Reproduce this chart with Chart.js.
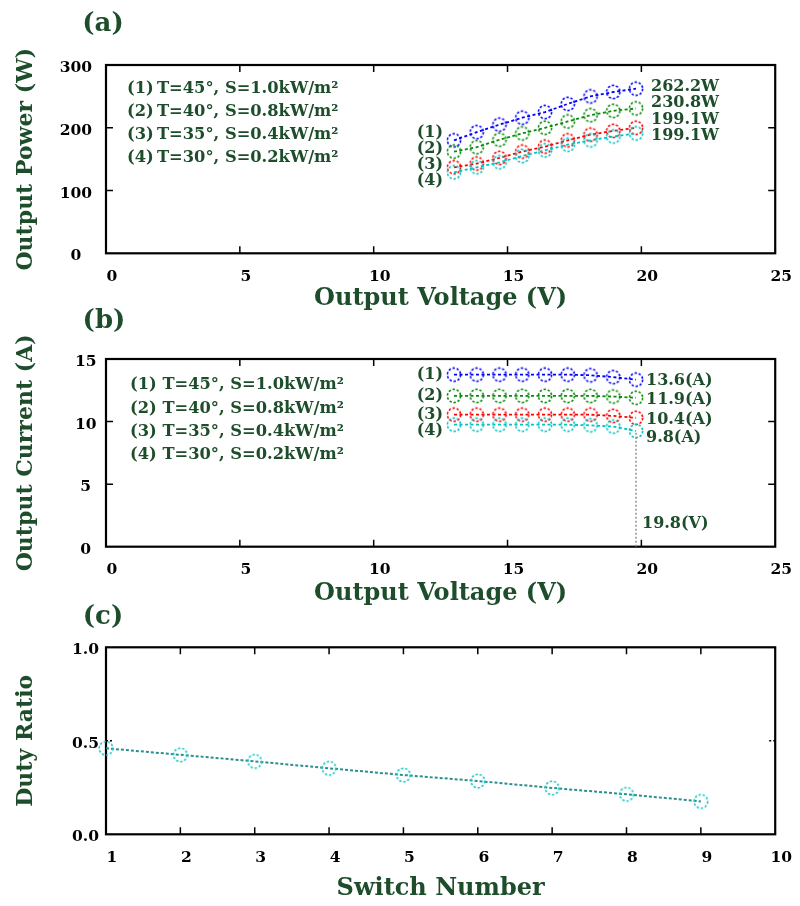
<!DOCTYPE html>
<html>
<head>
<meta charset="utf-8">
<script src="https://cdn.jsdelivr.net/npm/chart.js@4.4.0/dist/chart.umd.min.js"></script>
<style>
  body { margin: 0; background: #fff; width: 800px; height: 906px; position: relative; overflow: hidden; }
  canvas { position: absolute; left: 0; }
</style>
</head>
<body>
<canvas id="chartA" width="800" height="315" style="top:0px"></canvas>
<canvas id="chartB" width="800" height="310" style="top:300px"></canvas>
<canvas id="chartC" width="800" height="306" style="top:600px"></canvas>
<script>
// values
const voltage = [13.0, 13.85, 14.7, 15.55, 16.4, 17.25, 18.1, 18.95, 19.8];
const powerCase1 = [180, 193, 205, 216, 225, 238, 250, 257, 262.2];
const powerCase2 = [162, 169, 181, 191, 200, 210, 220, 227, 230.8];
const powerCase3 = [137, 143, 152, 162, 170, 180, 189, 195, 200];
const powerCase4 = [129, 137, 145, 155, 164, 173, 180, 186, 191];
const currentCase1 = [13.75, 13.75, 13.75, 13.75, 13.75, 13.75, 13.7, 13.55, 13.35];
const currentCase2 = [12.05, 12.05, 12.05, 12.05, 12.05, 12.05, 12.05, 12.0, 11.9];
const currentCase3 = [10.55, 10.55, 10.55, 10.55, 10.55, 10.55, 10.55, 10.45, 10.3];
const currentCase4 = [9.75, 9.75, 9.75, 9.75, 9.75, 9.75, 9.7, 9.6, 9.25];
const switchNumber = [1, 2, 3, 4, 5, 6, 7, 8, 9];
const dutyRatio = [0.46, 0.425, 0.39, 0.353, 0.317, 0.285, 0.248, 0.214, 0.176];

const caseLabels = ['(1)', '(2)', '(3)', '(4)'];
const caseConditions = ['T=45°, S=1.0kW/m²', 'T=40°, S=0.8kW/m²', 'T=35°, S=0.4kW/m²', 'T=30°, S=0.2kW/m²'];
const powerEndLabels = ['262.2W', '230.8W', '199.1W', '199.1W'];
const currentEndLabels = ['13.6(A)', '11.9(A)', '10.4(A)', '9.8(A)'];
const markVoltage = '19.8(V)';

const GREEN = '#1d4d2b';
const SERIF = "'DejaVu Serif', 'Liberation Serif', serif";
const caseColors = ['#0000ff', '#0a8a0a', '#ff0000', '#00c4c4'];

function ring(color, r) {
  const c = document.createElement('canvas');
  const s = Math.ceil(2 * r + 4);
  c.width = c.height = s;
  const g = c.getContext('2d');
  g.strokeStyle = color;
  g.lineWidth = 1.6;
  g.setLineDash([2.4, 1.8]);
  g.beginPath();
  g.arc(s / 2, s / 2, r, 0, Math.PI * 2);
  g.stroke();
  return c;
}

function pairs(xs, ys) {
  return xs.map((v, i) => ({x: v, y: ys[i]}));
}

function series(ys, i) {
  return {
    data: pairs(voltage, ys),
    borderColor: caseColors[i],
    borderWidth: 1.8,
    borderDash: [3, 2.5],
    pointStyle: ring(caseColors[i], 6.6),
    pointRadius: 7,
    clip: false
  };
}

function text(ctx, t, x, y, size, color, align) {
  ctx.font = 'bold ' + size + 'px ' + SERIF;
  ctx.fillStyle = color;
  ctx.textAlign = align || 'left';
  ctx.textBaseline = 'middle';
  ctx.fillText(t, x, y);
}

// border box with inward ticks on all four sides
const frame = {
  id: 'frame',
  beforeDatasetsDraw(chart, args, opts) {
    const {ctx, chartArea: a} = chart;
    const x = chart.scales.x, y = chart.scales.y;
    ctx.save();
    ctx.strokeStyle = '#000';
    ctx.lineWidth = 1.5;
    x.ticks.forEach(t => {
      const p = x.getPixelForValue(t.value);
      if (p < a.left + 2 || p > a.right - 2) return;
      ctx.beginPath();
      ctx.moveTo(p, a.bottom); ctx.lineTo(p, a.bottom - 7);
      ctx.moveTo(p, a.top); ctx.lineTo(p, a.top + 7);
      ctx.stroke();
    });
    if (opts.yDash) ctx.setLineDash(opts.yDash);
    y.ticks.forEach(t => {
      const p = y.getPixelForValue(t.value);
      if (p < a.top + 2 || p > a.bottom - 2) return;
      ctx.beginPath();
      ctx.moveTo(a.left, p); ctx.lineTo(a.left + 7, p);
      ctx.moveTo(a.right, p); ctx.lineTo(a.right - 7, p);
      ctx.stroke();
    });
    ctx.setLineDash([]);
    ctx.lineWidth = 2.2;
    ctx.strokeRect(a.left, a.top, a.right - a.left, a.bottom - a.top);
    ctx.restore();
  }
};
Chart.register(frame);

function axes(o) {
  const tickFont = {family: SERIF, size: 15.5, weight: 'bold'};
  return {
    x: {
      type: 'linear', min: o.xmin, max: o.xmax,
      afterFit: s => { s.height = o.h - o.bottom; },
      grid: {display: false, drawTicks: false},
      border: {display: false},
      ticks: {stepSize: o.xstep, padding: 14, labelOffset: 6, color: '#000', font: tickFont, autoSkip: false, maxRotation: 0},
      title: {display: true, text: o.xtitle, color: GREEN, font: {family: SERIF, size: 24, weight: 'bold'}, padding: {top: 0, bottom: o.xtpad}}
    },
    y: {
      min: o.ymin, max: o.ymax,
      afterFit: s => { s.width = 106; },
      grid: {display: false, drawTicks: false},
      border: {display: false},
      ticks: {stepSize: o.ystep, padding: o.ypad, crossAlign: 'center', labelOffset: 3, color: '#000', font: tickFont, callback: o.yfmt},
      title: {display: true, text: o.ytitle, color: GREEN, font: {family: SERIF, size: 22, weight: 'bold'}, padding: {top: 13, bottom: 0}}
    }
  };
}

function base(o, datasets, notes, frameOpts) {
  return {
    type: 'line',
    data: {datasets: datasets},
    options: {
      responsive: false,
      animation: false,
      layout: {padding: {left: 0, right: 20, top: o.top, bottom: 0}},
      scales: axes(o),
      plugins: {legend: {display: false}, tooltip: {enabled: false}, frame: frameOpts || {}}
    },
    plugins: [notes]
  };
}

// (a) output power
const notesA = {
  id: 'notesA',
  afterDraw(chart) {
    const ctx = chart.ctx;
    text(ctx, '(a)', 103, 24, 26, GREEN, 'center');
    caseConditions.forEach((t, i) => text(ctx, caseLabels[i] + '\u2009' + t, 127, 89 + 23 * i, 16.3, GREEN));
    const ly = [132.5, 149, 165, 180.5];
    caseLabels.forEach((t, i) => text(ctx, t, 443, ly[i], 16, GREEN, 'right'));
    const xe = chart.scales.x.getPixelForValue(voltage[voltage.length - 1]) + 15;
    const ey = [86.5, 102.5, 120, 135.5];
    powerEndLabels.forEach((t, i) => text(ctx, t, xe, ey[i], 16, GREEN));
  }
};
new Chart(document.getElementById('chartA'), base(
  {xmin: 0, xmax: 25, xstep: 5, ymin: 0, ymax: 300, ystep: 100, ypad: 14, h: 315, top: 65, bottom: 253.3, xtpad: 2,
   xtitle: 'Output Voltage (V)', ytitle: 'Output Power (W)'},
  [series(powerCase4, 3), series(powerCase3, 2), series(powerCase2, 1), series(powerCase1, 0)],
  notesA));

// (b) output current
const notesB = {
  id: 'notesB',
  afterDraw(chart) {
    const ctx = chart.ctx;
    text(ctx, '(b)', 104, 21.5, 26, GREEN, 'center');
    caseConditions.forEach((t, i) => text(ctx, caseLabels[i] + ' ' + t, 130, 85 + 23.3 * i, 16.3, GREEN));
    const ly = [75, 96, 114.5, 130.5];
    caseLabels.forEach((t, i) => text(ctx, t, 443, ly[i], 16, GREEN, 'right'));
    const xs = chart.scales.x.getPixelForValue(voltage[voltage.length - 1]);
    const ey = [80.5, 100, 119.5, 137.5];
    currentEndLabels.forEach((t, i) => text(ctx, t, xs + 10, ey[i], 16, GREEN));
    text(ctx, markVoltage, xs + 6, 224, 16, GREEN);
  }
};
const dropLine = {
  data: [{x: voltage[voltage.length - 1], y: 0}, {x: voltage[voltage.length - 1], y: currentCase4[currentCase4.length - 1]}],
  borderColor: '#8a8a8a', borderWidth: 1.4, borderDash: [2, 2], pointRadius: 0
};
new Chart(document.getElementById('chartB'), base(
  {xmin: 0, xmax: 25, xstep: 5, ymin: 0, ymax: 15, ystep: 5, ypad: 9.5, h: 310, top: 59, bottom: 246.7, xtpad: 2,
   xtitle: 'Output Voltage (V)', ytitle: 'Output Current (A)'},
  [dropLine, series(currentCase4, 3), series(currentCase3, 2), series(currentCase2, 1), series(currentCase1, 0)],
  notesB));

// (c) duty ratio
const notesC = {
  id: 'notesC',
  afterDraw(chart) {
    text(chart.ctx, '(c)', 103, 17, 26, GREEN, 'center');
  }
};
new Chart(document.getElementById('chartC'), base(
  {xmin: 1, xmax: 10, xstep: 1, ymin: 0, ymax: 1, ystep: 0.5, ypad: 7, h: 306, top: 47.3, bottom: 234.3, xtpad: 3,
   xtitle: 'Switch Number', ytitle: 'Duty Ratio', yfmt: v => v.toFixed(1)},
  [{
    data: pairs(switchNumber, dutyRatio),
    borderColor: '#2b8f8f', borderWidth: 2, borderDash: [3, 2],
    pointStyle: ring('#1ec8c8', 6.8), pointRadius: 7, clip: false
  }],
  notesC, {yDash: [2, 2]}));
</script>
</body>
</html>
